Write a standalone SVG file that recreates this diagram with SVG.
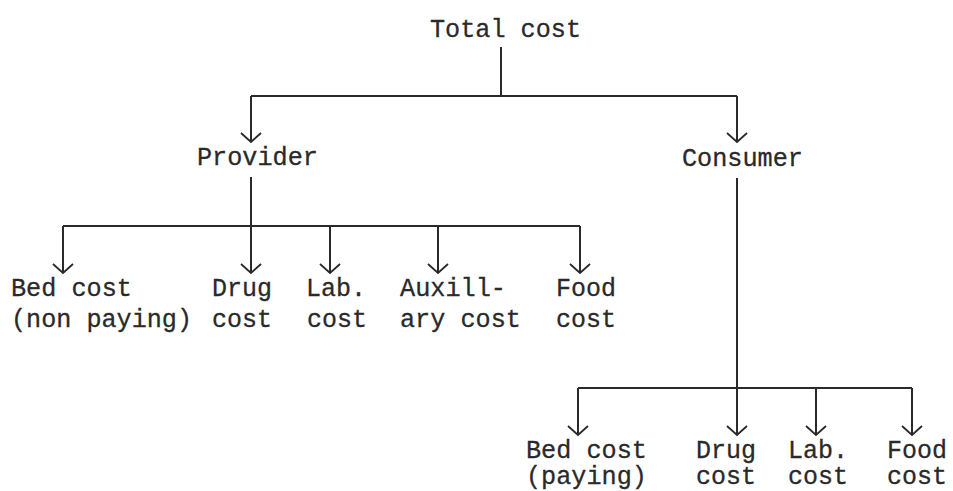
<svg xmlns="http://www.w3.org/2000/svg" width="953" height="491" viewBox="0 0 953 491">
<style>
.t{font-family:"Liberation Mono","DejaVu Sans Mono",monospace;font-size:26px;fill:#2a2a2a;stroke:#2a2a2a;stroke-width:0.3}
.c{stroke:#2a2a2a;stroke-width:2;fill:none}
</style>
<defs>
<marker id="ah" markerUnits="userSpaceOnUse" markerWidth="24" markerHeight="24" viewBox="-12 -12 24 24" refX="0" refY="0" orient="auto" overflow="visible">
<path d="M-9,-10 L0,0 L-9,10" fill="none" stroke="#2a2a2a" stroke-width="1.8"/>
</marker>
</defs>
<rect width="953" height="491" fill="#fff"/>
<g id="connectors" class="c">
<path d="M501,47 V96 M251,96 H737"/>
<path d="M251,96 V142" marker-end="url(#ah)"/>
<path d="M737,96 V142" marker-end="url(#ah)"/>
<path d="M251,177 V226 M63,226 H580"/>
<path d="M63,226 V273" marker-end="url(#ah)"/>
<path d="M251,226 V273" marker-end="url(#ah)"/>
<path d="M330,226 V273" marker-end="url(#ah)"/>
<path d="M438,226 V273" marker-end="url(#ah)"/>
<path d="M580,226 V273" marker-end="url(#ah)"/>
<path d="M737,178 V388 M578,388 H912"/>
<path d="M578,388 V435" marker-end="url(#ah)"/>
<path d="M737,388 V435" marker-end="url(#ah)"/>
<path d="M816,388 V435" marker-end="url(#ah)"/>
<path d="M912,388 V435" marker-end="url(#ah)"/>
</g>
<g id="total"><text class="t" x="430" y="37" textLength="151" lengthAdjust="spacingAndGlyphs">Total cost</text></g>
<g id="provider"><text class="t" x="197" y="165" textLength="121" lengthAdjust="spacingAndGlyphs">Provider</text></g>
<g id="consumer"><text class="t" x="682" y="166" textLength="121" lengthAdjust="spacingAndGlyphs">Consumer</text></g>
<g id="p-bed"><text class="t" x="11" y="296" textLength="121" lengthAdjust="spacingAndGlyphs">Bed cost</text><text class="t" x="11" y="327" textLength="181" lengthAdjust="spacingAndGlyphs">(non paying)</text></g>
<g id="p-drug"><text class="t" x="212" y="296" textLength="60" lengthAdjust="spacingAndGlyphs">Drug</text><text class="t" x="212" y="327" textLength="60" lengthAdjust="spacingAndGlyphs">cost</text></g>
<g id="p-lab"><text class="t" x="306" y="296" textLength="60" lengthAdjust="spacingAndGlyphs">Lab.</text><text class="t" x="307" y="327" textLength="60" lengthAdjust="spacingAndGlyphs">cost</text></g>
<g id="p-aux"><text class="t" x="400" y="296" textLength="106" lengthAdjust="spacingAndGlyphs">Auxill-</text><text class="t" x="400" y="327" textLength="121" lengthAdjust="spacingAndGlyphs">ary cost</text></g>
<g id="p-food"><text class="t" x="556" y="296" textLength="60" lengthAdjust="spacingAndGlyphs">Food</text><text class="t" x="556" y="327" textLength="60" lengthAdjust="spacingAndGlyphs">cost</text></g>
<g id="c-bed"><text class="t" x="526" y="458" textLength="121" lengthAdjust="spacingAndGlyphs">Bed cost</text><text class="t" x="526" y="484" textLength="121" lengthAdjust="spacingAndGlyphs">(paying)</text></g>
<g id="c-drug"><text class="t" x="696" y="458" textLength="60" lengthAdjust="spacingAndGlyphs">Drug</text><text class="t" x="696" y="484" textLength="60" lengthAdjust="spacingAndGlyphs">cost</text></g>
<g id="c-lab"><text class="t" x="788" y="458" textLength="60" lengthAdjust="spacingAndGlyphs">Lab.</text><text class="t" x="788" y="484" textLength="60" lengthAdjust="spacingAndGlyphs">cost</text></g>
<g id="c-food"><text class="t" x="887" y="458" textLength="60" lengthAdjust="spacingAndGlyphs">Food</text><text class="t" x="887" y="484" textLength="60" lengthAdjust="spacingAndGlyphs">cost</text></g>
</svg>
